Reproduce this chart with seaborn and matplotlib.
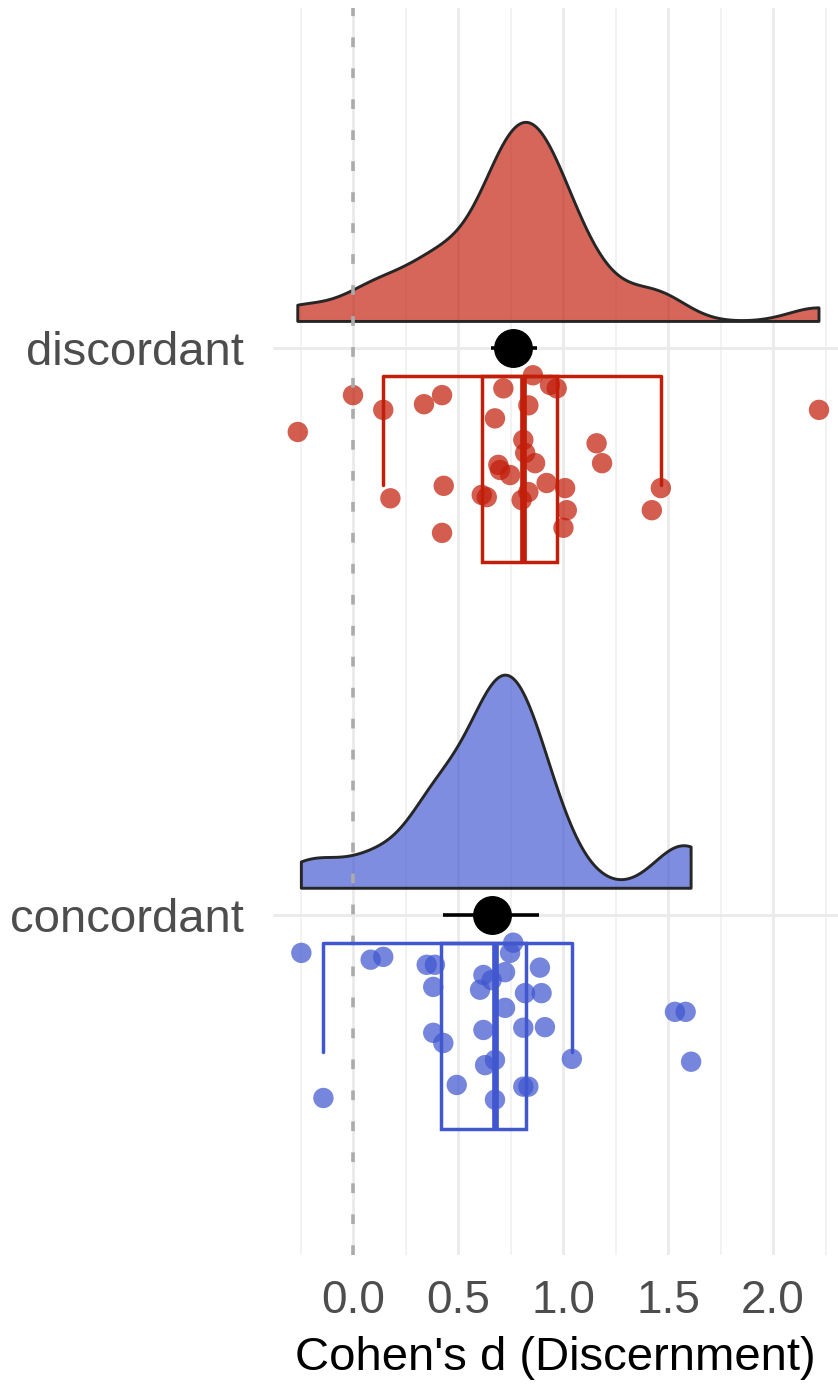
import numpy as np
import pandas as pd
import matplotlib
matplotlib.use("Agg")
import matplotlib.pyplot as plt
import seaborn as sns
from matplotlib import cbook
from matplotlib.patches import Rectangle
from matplotlib.ticker import MultipleLocator, FormatStrFormatter

# ---------------- data ----------------
groups = ["concordant", "discordant"]
group_colors = ["#4157D0", "#C21E0A"]

discordant_d = [-0.263, 0.000, 0.144, 0.178, 0.338, 0.424, 0.424, 0.432, 0.613,
                0.637, 0.676, 0.692, 0.700, 0.716, 0.748, 0.803, 0.811, 0.820,
                0.835, 0.835, 0.857, 0.867, 0.922, 0.938, 0.970, 1.002, 1.010,
                1.018, 1.160, 1.186, 1.423, 1.466, 2.219]
discordant_jitter = [-0.148, -0.083, -0.109, -0.265, -0.099, -0.083, -0.326, -0.243,
                     -0.259, -0.263, -0.124, -0.206, -0.215, -0.071, -0.224, -0.268,
                     -0.162, -0.185, -0.101, -0.254, -0.048, -0.203, -0.238, -0.065,
                     -0.071, -0.317, -0.247, -0.286, -0.168, -0.203, -0.286, -0.247,
                     -0.109]

concordant_d = [-0.246, -0.141, 0.084, 0.144, 0.351, 0.382, 0.382, 0.390, 0.430,
                0.494, 0.605, 0.621, 0.621, 0.629, 0.660, 0.676, 0.676, 0.724,
                0.724, 0.748, 0.763, 0.811, 0.811, 0.819, 0.835, 0.890, 0.898,
                0.914, 1.042, 1.533, 1.584, 1.610]
concordant_jitter = [-0.067, -0.323, -0.079, -0.074, -0.088, -0.127, -0.208, -0.088,
                     -0.226, -0.300, -0.132, -0.106, -0.203, -0.265, -0.115, -0.256,
                     -0.326, -0.101, -0.164, -0.067, -0.049, -0.199, -0.303, -0.138,
                     -0.303, -0.093, -0.138, -0.198, -0.254, -0.171, -0.171, -0.259]

# pooled estimate and interval (concordant, discordant)
mean_est = [0.660, 0.764]
ci_low = [0.430, 0.656]
ci_high = [0.887, 0.875]

# kernel bandwidth adjustment per group (concordant, discordant)
bw_adjust = [1.0, 1.18]

x_ticks = [0.0, 0.5, 1.0, 1.5, 2.0]
x_label = "Cohen's d (Discernment)"

# ---------------- style ----------------
sns.set_theme(style="white")
plt.rcParams["font.family"] = ["Liberation Sans", "DejaVu Sans"]
plt.rcParams["lines.scale_dashes"] = False

fig = plt.figure(figsize=(8.38, 13.90), dpi=100)
ax = fig.add_axes([273 / 838, 135 / 1390, 1 - 273 / 838, 1247 / 1390])

values = {"concordant": concordant_d, "discordant": discordant_d}
jitters = {"concordant": concordant_jitter, "discordant": discordant_jitter}
pos = {g: i + 1 for i, g in enumerate(groups)}
palette = dict(zip(groups, group_colors))
adjust = dict(zip(groups, bw_adjust))

# layout offsets relative to category line
dens_base = 0.047
dens_height = 0.376
box_top, box_bot, whisk_end = -0.050, -0.377, -0.242


def kde(vals, grid, bw):
    z = (grid[:, None] - vals[None, :]) / bw
    return np.exp(-0.5 * z ** 2).sum(axis=1) / (len(vals) * bw * np.sqrt(2 * np.pi))


dens = {}
for g in groups:
    v = np.asarray(values[g])
    iqr = np.subtract(*np.percentile(v, [75, 25]))
    bw = 0.9 * min(v.std(ddof=1), iqr / 1.34) * len(v) ** -0.2 * adjust[g]
    grid = np.linspace(v.min(), v.max(), 512)
    dens[g] = (grid, kde(v, grid, bw))
gmax = max(d.max() for _, d in dens.values())

for g in groups:
    grid, d = dens[g]
    c = palette[g]
    y0 = pos[g] + dens_base
    h = d / gmax * dens_height
    xs = np.concatenate([[grid[0]], grid, [grid[-1]]])
    ys = np.concatenate([[y0], y0 + h, [y0]])
    ax.fill(xs, ys, facecolor=c, alpha=0.68, edgecolor="none", zorder=2)
    ax.fill(xs, ys, facecolor="none", edgecolor="#262626", lw=2.1, zorder=2.5,
            joinstyle="round")

# jittered points
df = pd.concat([
    pd.DataFrame({"group": g, "d": values[g],
                  "ypos": pos[g] + np.asarray(jitters[g])})
    for g in groups
])
sns.scatterplot(data=df, x="d", y="ypos", hue="group", palette=palette,
                s=215, alpha=0.72, linewidth=0, legend=False, ax=ax, zorder=3)

# zero reference line
ax.axvline(0, color="#ABABAB", lw=2.6, linestyle=(0, (7.0, 15.3)), zorder=3.5)

# box + bracket whiskers
for g in groups:
    st = cbook.boxplot_stats(np.asarray(values[g]))[0]
    c = palette[g]
    yc = pos[g]
    ax.add_patch(Rectangle((st["q1"], yc + box_bot), st["q3"] - st["q1"],
                           box_top - box_bot, fill=False, edgecolor=c, lw=2.5,
                           zorder=4))
    ax.plot([st["med"], st["med"]], [yc + box_bot, yc + box_top], color=c,
            lw=4.8, solid_capstyle="butt", zorder=4)
    ax.plot([st["whislo"], st["whislo"], st["whishi"], st["whishi"]],
            [yc + whisk_end, yc + box_top, yc + box_top, yc + whisk_end],
            color=c, lw=2.5, zorder=4)

# mean with interval
for i, g in enumerate(groups):
    ax.errorbar(mean_est[i], pos[g],
                xerr=[[mean_est[i] - ci_low[i]], [ci_high[i] - mean_est[i]]],
                fmt="o", color="black", ms=27, elinewidth=2.6, capsize=0,
                zorder=5)

# axes
ax.set_xlim(-0.381, 2.3095)
ax.set_ylim(0.4, 2.6)
ax.xaxis.set_major_locator(MultipleLocator(0.5))
ax.xaxis.set_minor_locator(MultipleLocator(0.25))
ax.xaxis.set_major_formatter(FormatStrFormatter("%.1f"))
ax.set_xticks(x_ticks)
ax.set_yticks([pos[g] for g in groups])
ax.set_yticklabels(groups)
ax.grid(which="major", axis="x", color="#EAEAEA", lw=2.0, zorder=0)
ax.grid(which="minor", axis="x", color="#F1F1F1", lw=1.3, zorder=0)
ax.grid(which="major", axis="y", color="#EAEAEA", lw=2.0, zorder=0)
ax.set_axisbelow(True)
for s in ax.spines.values():
    s.set_visible(False)
ax.tick_params(axis="x", which="both", length=0, pad=17, labelsize=33,
               labelcolor="#4D4D4D")
ax.tick_params(axis="y", which="both", length=0, pad=21, labelsize=34,
               labelcolor="#4D4D4D")
ax.set_xlabel(x_label, fontsize=34, color="black", labelpad=10)
ax.set_ylabel("")

fig.savefig("out.png", dpi=100)
